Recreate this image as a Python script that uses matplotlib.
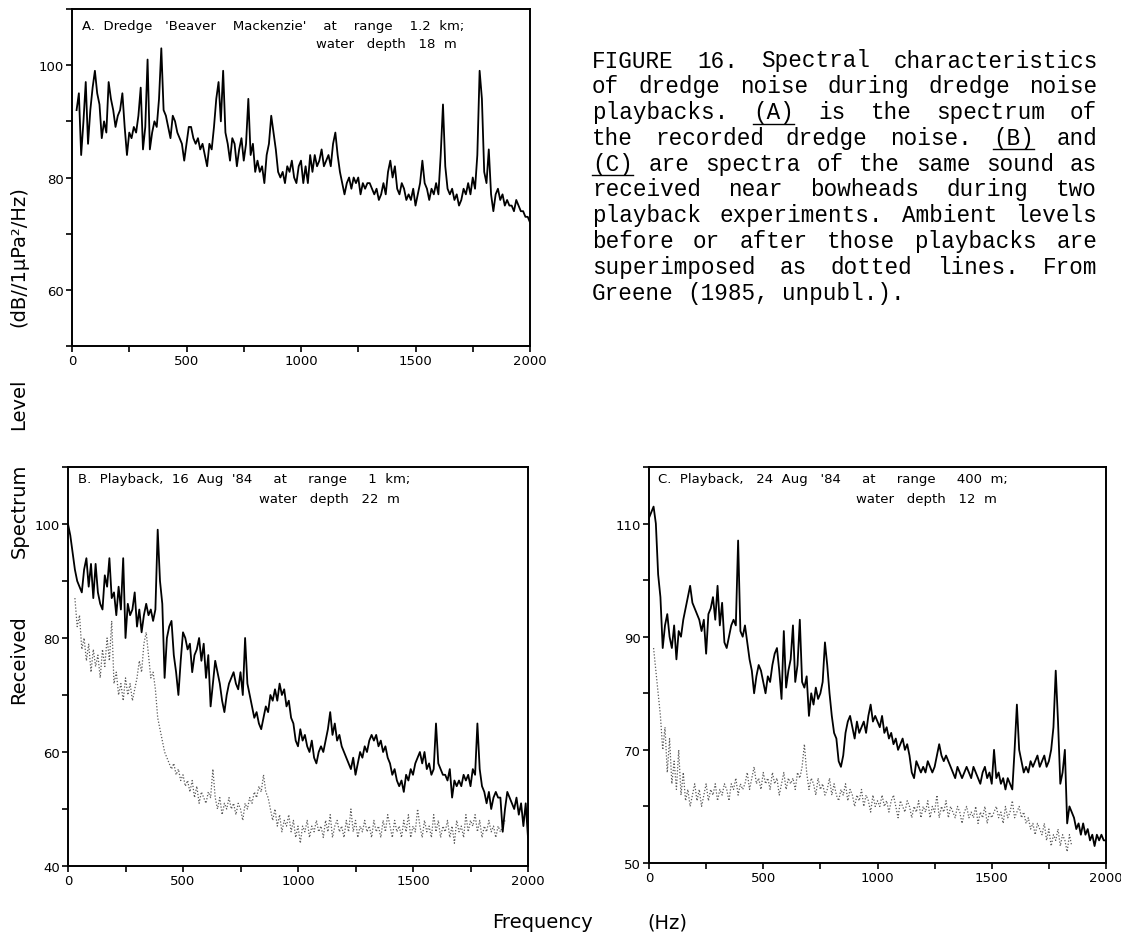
import numpy as np
import matplotlib
matplotlib.use("Agg")
import matplotlib.pyplot as plt
from matplotlib.lines import Line2D
from matplotlib.ticker import MultipleLocator

# spectrum levels (dB), one value per 10 Hz bin
# A: dredge noise, bins start at 20 Hz
level_a = [
    92, 95, 84, 90, 97, 86, 92, 96, 99, 95,
    93, 87, 90, 88, 97, 94, 92, 89, 91, 92,
    95, 89, 84, 88, 87, 89, 88, 91, 96, 85,
    89, 101, 85, 88, 90, 89, 94, 103, 92, 91,
    89, 87, 91, 90, 88, 87, 86, 83, 86, 89,
    89, 87, 86, 87, 85, 86, 84, 82, 86, 85,
    89, 94, 97, 90, 99, 88, 86, 83, 87, 86,
    82, 85, 87, 83, 86, 94, 84, 86, 81, 83,
    81, 82, 79, 84, 86, 91, 88, 85, 81, 80,
    81, 79, 82, 81, 83, 80, 79, 82, 83, 79,
    82, 79, 84, 81, 84, 82, 83, 85, 82, 83,
    84, 82, 86, 88, 84, 81, 79, 77, 79, 80,
    78, 80, 79, 80, 77, 79, 78, 79, 79, 78,
    77, 78, 76, 77, 79, 77, 81, 83, 80, 82,
    78, 77, 79, 78, 76, 77, 76, 78, 75, 77,
    79, 83, 79, 78, 76, 78, 77, 79, 77, 84,
    93, 82, 78, 77, 78, 76, 77, 75, 76, 78,
    77, 79, 77, 80, 78, 84, 99, 94, 81, 79,
    85, 77, 74, 77, 78, 76, 77, 75, 76, 75,
    75, 74, 76, 75, 74, 74, 73, 73, 72,
]

# B: playback 16 Aug, bins start at 0 Hz
level_b = [
    100, 98, 95, 92, 90, 89, 88, 92, 94, 89,
    93, 87, 93, 88, 86, 85, 91, 89, 94, 87,
    88, 84, 89, 85, 94, 80, 86, 84, 85, 88,
    82, 85, 81, 84, 86, 84, 85, 83, 85, 99,
    90, 86, 73, 80, 82, 83, 77, 74, 70, 76,
    81, 80, 78, 79, 74, 77, 78, 80, 76, 79,
    73, 77, 68, 72, 76, 74, 72, 69, 67, 70,
    72, 73, 74, 72, 71, 74, 70, 80, 72, 70,
    68, 66, 67, 65, 64, 66, 68, 67, 70, 69,
    71, 69, 72, 70, 71, 68, 69, 66, 65, 62,
    61, 64, 62, 63, 61, 60, 62, 59, 58, 60,
    61, 60, 62, 64, 67, 63, 65, 62, 63, 61,
    60, 59, 58, 57, 59, 56, 58, 60, 59, 61,
    60, 62, 63, 62, 63, 61, 62, 60, 61, 59,
    58, 56, 57, 55, 54, 55, 53, 56, 55, 57,
    56, 58, 59, 60, 58, 60, 57, 58, 56, 57,
    65, 58, 57, 56, 56, 55, 57, 52, 55, 54,
    55, 54, 56, 55, 56, 54, 57, 56, 65, 57,
    54, 53, 51, 53, 50, 52, 53, 52, 52, 46,
    50, 53, 52, 51, 50, 52, 49, 51, 47, 51, 45,
]

# B ambient (dotted), bins start at 30 Hz
ambient_b = [
    87, 82, 84, 78, 80, 76, 79, 74, 78, 75,
    77, 73, 78, 75, 80, 76, 83, 72, 74, 70,
    72, 69, 73, 70, 72, 69, 71, 73, 76, 74,
    79, 81, 77, 73, 74, 71, 66, 64, 62, 60,
    59, 58, 57, 58, 56, 57, 55, 56, 54, 55,
    53, 55, 52, 54, 51, 53, 52, 51, 53, 52,
    57, 52, 50, 52, 49, 51, 50, 52, 50, 51,
    49, 51, 50, 48, 51, 50, 52, 51, 53, 52,
    54, 53, 56, 53, 52, 50, 48, 50, 47, 49,
    46, 48, 47, 49, 46, 48, 45, 47, 44, 47,
    46, 48, 45, 47, 46, 48, 46, 47, 45, 48,
    46, 49, 45, 47, 48, 46, 47, 45, 48, 46,
    50, 46, 48, 45, 47, 46, 48, 46, 47, 45,
    48, 46, 47, 45, 48, 46, 49, 47, 45, 48,
    46, 47, 45, 48, 46, 49, 45, 47, 46, 50,
    47, 45, 48, 46, 47, 45, 49, 46, 48, 45,
    47, 46, 48, 45, 47, 44, 48, 46, 47, 45,
    49, 46, 48, 47, 49, 46, 48, 45, 47, 46,
    48, 46, 47, 45, 47, 46, 47, 48,
]

# C: playback 24 Aug, bins start at 0 Hz
level_c = [
    111, 112, 113, 110, 101, 97, 88, 92, 94, 90,
    88, 92, 86, 91, 90, 93, 95, 97, 99, 96,
    95, 94, 93, 91, 93, 87, 94, 95, 97, 93,
    99, 92, 96, 89, 88, 90, 92, 93, 92, 107,
    91, 90, 92, 89, 86, 84, 80, 83, 85, 84,
    82, 80, 83, 82, 85, 87, 88, 84, 79, 91,
    81, 84, 86, 92, 82, 85, 93, 82, 81, 83,
    76, 80, 78, 81, 79, 80, 82, 89, 85, 80,
    76, 73, 72, 68, 67, 69, 73, 75, 76, 74,
    72, 75, 73, 74, 75, 73, 76, 78, 75, 76,
    75, 74, 76, 73, 74, 72, 73, 71, 72, 70,
    71, 72, 70, 71, 69, 66, 65, 68, 67, 66,
    67, 66, 68, 67, 66, 67, 69, 71, 69, 68,
    69, 68, 67, 66, 65, 67, 66, 65, 66, 67,
    66, 65, 67, 66, 65, 64, 66, 67, 65, 66,
    64, 70, 65, 66, 64, 65, 63, 65, 64, 63,
    70, 78, 70, 68, 66, 67, 66, 68, 67, 68,
    69, 67, 68, 69, 67, 68, 70, 74, 84, 75,
    64, 66, 70, 57, 60, 59, 58, 56, 57, 55,
    57, 55, 56, 54, 55, 53, 55, 54, 55, 54, 54,
]

# C ambient (dotted), bins start at 20 Hz
ambient_c = [
    88, 84, 80, 76, 70, 74, 66, 72, 64, 68,
    63, 70, 62, 66, 61, 63, 60, 62, 64, 61,
    63, 60, 62, 64, 61, 63, 62, 64, 61, 63,
    62, 64, 63, 61, 64, 63, 65, 62, 64, 63,
    64, 66, 63, 65, 67, 64, 65, 63, 66, 64,
    65, 63, 66, 64, 65, 62, 64, 66, 63, 65,
    64, 65, 63, 66, 65, 67, 71, 66, 63, 65,
    64, 62, 65, 63, 64, 62, 63, 65, 62, 64,
    62, 61, 63, 62, 64, 61, 63, 62, 60, 62,
    61, 63, 60, 62, 61, 59, 62, 60, 61, 60,
    62, 60, 61, 59, 61, 62, 60, 58, 61, 60,
    59, 61, 60, 58, 60, 59, 61, 58, 60, 59,
    61, 58, 60, 59, 62, 58, 60, 59, 61, 58,
    60, 59, 58, 60, 59, 57, 59, 60, 58, 59,
    58, 60, 57, 59, 58, 60, 57, 59, 58, 59,
    60, 58, 59, 57, 60, 58, 59, 61, 58, 59,
    60, 58, 59, 57, 58, 56, 57, 55, 57, 56,
    55, 57, 54, 56, 53, 55, 54, 56, 53, 55,
    54, 52, 55, 53,
]

freq_a = 20 + 10 * np.arange(len(level_a))
freq_b = 0 + 10 * np.arange(len(level_b))
freq_b_amb = 30 + 10 * np.arange(len(ambient_b))
freq_c = 0 + 10 * np.arange(len(level_c))
freq_c_amb = 20 + 10 * np.arange(len(ambient_c))

caption = [
    "FIGURE 16. Spectral characteristics",
    "of dredge noise during dredge noise",
    "playbacks. (A) is the spectrum of",
    "the recorded dredge noise. (B) and",
    "(C) are spectra of the same sound as",
    "received near bowheads during two",
    "playback experiments. Ambient levels",
    "before or after those playbacks are",
    "superimposed as dotted lines. From",
    "Greene (1985, unpubl.).",
]

W, H = 1121, 937
fig = plt.figure(figsize=(W / 100, H / 100), dpi=100)
fig.patch.set_facecolor("white")


def px_axes(x0, y0, x1, y1):
    # axes from pixel box (left, top, right, bottom)
    return fig.add_axes([x0 / W, 1 - y1 / H, (x1 - x0) / W, (y1 - y0) / H])


def setup(ax, ylo, yhi, yticks):
    ax.set_xlim(0, 2000)
    ax.set_ylim(ylo, yhi)
    ax.set_xticks([0, 500, 1000, 1500, 2000])
    ax.xaxis.set_minor_locator(MultipleLocator(250))
    ax.set_yticks(yticks)
    ax.yaxis.set_minor_locator(MultipleLocator(10))
    ax.tick_params(which="both", direction="out", length=4, width=1.2,
                   labelsize=9.5, pad=2)
    for s in ax.spines.values():
        s.set_linewidth(1.4)


def titles(ax, line1, x1, line2, x2, y1=0.97, y2=0.92):
    ax.text(x1, y1, line1, transform=ax.transAxes, fontsize=9.5,
            va="center", ha="left")
    ax.text(x2, y2, line2, transform=ax.transAxes, fontsize=9.5,
            va="center", ha="right")


ax_a = px_axes(72, 10, 530, 347)
ax_a.plot(freq_a, level_a, color="black", lw=1.3)
setup(ax_a, 50, 110, [60, 80, 100])
titles(ax_a, "A.  Dredge   'Beaver    Mackenzie'    at    range    1.2  km;", 0.022,
       "water   depth   18  m", 0.84, 0.9525, 0.899)

ax_b = px_axes(68, 468, 528, 867)
ax_b.plot(freq_b_amb, ambient_b, color="0.35", lw=0.9, linestyle=(0, (1, 1.5)))
ax_b.plot(freq_b, level_b, color="black", lw=1.3)
setup(ax_b, 40, 110, [40, 60, 80, 100])
titles(ax_b, "B.  Playback,  16  Aug  '84     at     range     1  km;", 0.022,
       "water   depth   22  m", 0.722)

ax_c = px_axes(649, 468, 1106, 864)
ax_c.plot(freq_c_amb, ambient_c, color="0.35", lw=0.9, linestyle=(0, (1, 1.5)))
ax_c.plot(freq_c, level_c, color="black", lw=1.3)
setup(ax_c, 50, 120, [50, 70, 90, 110])
titles(ax_c, "C.  Playback,   24  Aug   '84     at     range     400  m;", 0.02,
       "water   depth   12  m", 0.762)

# shared axis labels, split into words as in the original
ylab = [("(dB//1μPa²/Hz)", 257), ("Level", 404), ("Spectrum", 511), ("Received", 660)]
for word, yc in ylab:
    fig.text(19 / W, 1 - yc / H, word, rotation=90, fontsize=14,
             ha="center", va="center")
fig.text(543 / W, 1 - 923 / H, "Frequency", fontsize=14, ha="center", va="center")
fig.text(667 / W, 1 - 923 / H, "(Hz)", fontsize=14, ha="center", va="center")

# typewritten caption, justified line by line
cap_left, cap_right = 592, 1097
cap_size = 16.3
cw = 0.6 * cap_size * 100 / 72
for i, line in enumerate(caption):
    y = 61 + 25.8 * i
    words = line.split()
    nchar = sum(len(w) for w in words)
    if i < len(caption) - 1:
        gap = (cap_right - cap_left - cw * nchar) / (len(words) - 1)
    else:
        gap = cw
    x = cap_left
    for w in words:
        fig.text(x / W, 1 - y / H, w, family="Liberation Mono",
                 fontsize=cap_size, ha="left", va="center")
        if w in ("(A)", "(B)", "(C)"):
            fig.add_artist(Line2D([x / W, (x + cw * len(w)) / W],
                                  [1 - (y + 12) / H] * 2, color="black", lw=1))
        x += cw * len(w) + gap

fig.savefig("out.png", dpi=100, facecolor="white")
